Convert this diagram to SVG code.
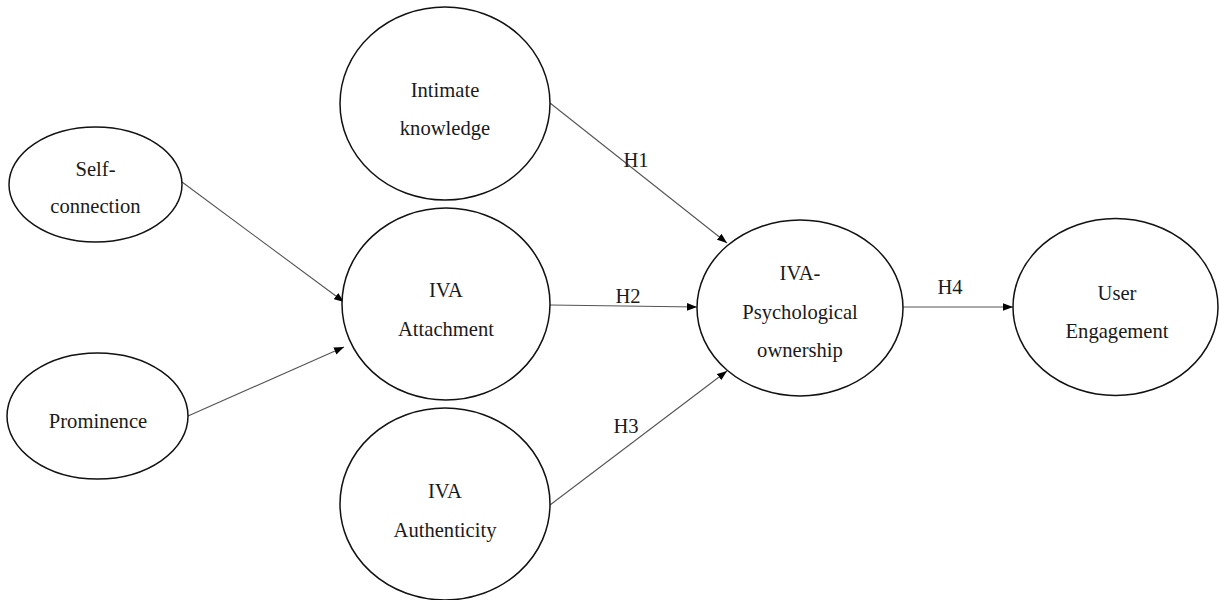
<svg xmlns="http://www.w3.org/2000/svg" width="1219" height="600" viewBox="0 0 1219 600">
<style>
.node ellipse{fill:#fff;stroke:#111;stroke-width:1.5}
.node text{font-family:"Liberation Serif","Times New Roman",serif;font-size:20.6px;fill:#1a1a1a;text-anchor:middle}
.lbl{font-family:"Liberation Serif","Times New Roman",serif;font-size:20.6px;fill:#1a1a1a;text-anchor:middle}
.edge{stroke:#555;stroke-width:1.1;fill:none;marker-end:url(#ah)}
</style>
<defs>
<marker id="ah" markerUnits="userSpaceOnUse" markerWidth="11" markerHeight="8" refX="10" refY="3.8" orient="auto">
<path d="M0,0 L10,3.8 L0,7.6 z" fill="#000"/>
</marker>
</defs>
<rect width="1219" height="600" fill="#fff"/>
<g id="connectors">
<line class="edge" x1="182" y1="182" x2="344" y2="302"/>
<line class="edge" x1="188" y1="416" x2="344" y2="347"/>
<line class="edge" x1="550" y1="103" x2="727" y2="243"/>
<line class="edge" x1="550" y1="305" x2="697" y2="307"/>
<line class="edge" x1="550" y1="505" x2="727" y2="371"/>
<line class="edge" x1="903" y1="307" x2="1013" y2="307"/>
<text class="lbl" x="636" y="167">H1</text>
<text class="lbl" x="628" y="303">H2</text>
<text class="lbl" x="626" y="433">H3</text>
<text class="lbl" x="950" y="294">H4</text>
</g>
<g id="self-connection" class="node">
<ellipse cx="95.5" cy="184.5" rx="86.5" ry="57.5"/>
<text x="95.5" y="176">Self-</text>
<text x="95.5" y="213">connection</text>
</g>
<g id="prominence" class="node">
<ellipse cx="97.5" cy="416" rx="90.5" ry="63"/>
<text x="98" y="428">Prominence</text>
</g>
<g id="intimate-knowledge" class="node">
<ellipse cx="445" cy="103.5" rx="105" ry="96.5"/>
<text x="445" y="97">Intimate</text>
<text x="445" y="135">knowledge</text>
</g>
<g id="iva-attachment" class="node">
<ellipse cx="446" cy="304" rx="104" ry="96"/>
<text x="446" y="297">IVA</text>
<text x="446" y="336">Attachment</text>
</g>
<g id="iva-authenticity" class="node">
<ellipse cx="445" cy="504" rx="105" ry="96"/>
<text x="445" y="498">IVA</text>
<text x="445" y="537">Authenticity</text>
</g>
<g id="iva-psychological-ownership" class="node">
<ellipse cx="800" cy="308" rx="103" ry="88"/>
<text x="800" y="280">IVA-</text>
<text x="800" y="319">Psychological</text>
<text x="800" y="357">ownership</text>
</g>
<g id="user-engagement" class="node">
<ellipse cx="1115.5" cy="307" rx="102.5" ry="88.5"/>
<text x="1117" y="300">User</text>
<text x="1117" y="338">Engagement</text>
</g>
</svg>
